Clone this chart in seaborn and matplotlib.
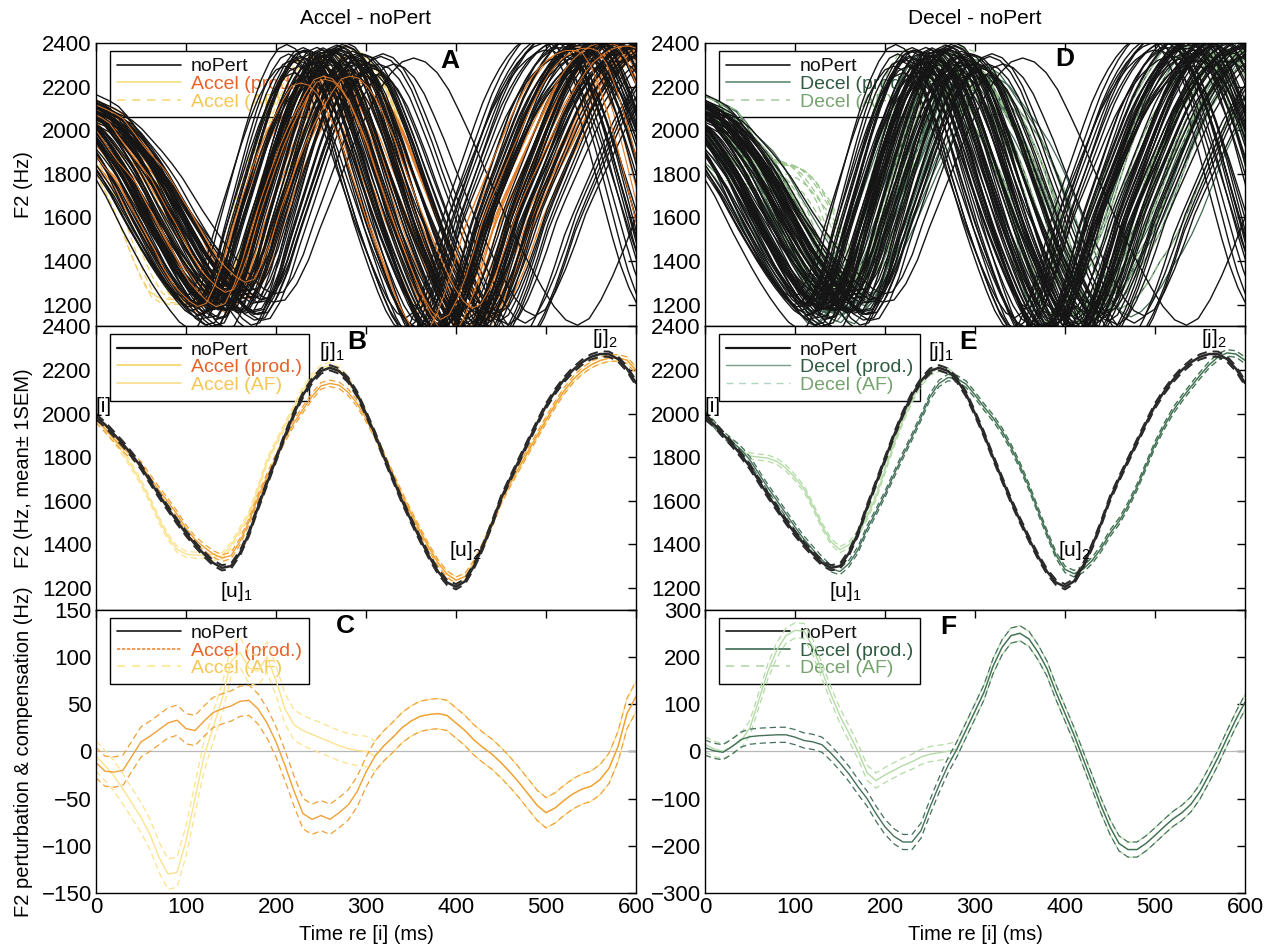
import numpy as np
import pandas as pd
import matplotlib
matplotlib.use("Agg")
import matplotlib.pyplot as plt
import seaborn as sns
from matplotlib.lines import Line2D

# ------------------------------------------------------------------ data
time_ms = list(range(0, 610, 10))            # 0..600 ms
time_ext_ms = list(range(-50, 730, 10))      # -50..720 ms (template for single trials)

# noPert mean F2 trajectory (Hz), 0..600 ms
nopert_mean = [1985, 1950, 1905, 1860, 1810, 1755, 1690, 1625, 1565, 1505,
               1450, 1400, 1355, 1315, 1292, 1300, 1360, 1450, 1570, 1680,
               1790, 1900, 2000, 2085, 2150, 2195, 2210, 2195, 2155, 2090,
               2000, 1905, 1800, 1700, 1600, 1510, 1425, 1345, 1275, 1225,
               1205, 1230, 1300, 1390, 1495, 1610, 1700, 1785, 1870, 1955,
               2035, 2100, 2155, 2200, 2235, 2260, 2273, 2272, 2250, 2205,
               2140]
nopert_head = [2060, 2050, 2035, 2020, 2005]          # -50..-10 ms
nopert_tail = [2060, 1970, 1870, 1760, 1650, 1540, 1440, 1360, 1300, 1270, 1270, 1300]

# Accel - noPert (Hz), 0..600 ms
accel_prod_diff = [-12, -21, -22, -20, -5, 10, 16, 23, 30, 33,
                   24, 22, 32, 41, 45, 48, 53, 54, 45, 30,
                   10, -15, -42, -66, -72, -68, -72, -65, -57, -43,
                   -22, -5, 6, 15, 25, 32, 37, 39, 40, 38,
                   30, 22, 12, 4, -3, -12, -22, -33, -45, -57,
                   -65, -60, -52, -45, -40, -37, -30, -18, 5, 40,
                   58]
accel_head = [-8, -9, -10, -10, -11]
accel_prod_tail = [60, 55, 45, 35, 25, 15, 5, 0, 0, 0, 0, 0]
accel_af_diff_early = [-5, -15, -26, -40, -55, -70, -88, -112, -130, -128,
                       -95, -50, -5, 25, 55, 95, 105, 88, 85, 100,
                       75, 45, 28, 22, 18, 14, 10, 6, 3, 1, 0]      # 0..300 ms

# Decel - noPert (Hz), 0..600 ms
decel_prod_diff = [8, 1, -2, 10, 25, 31, 33, 34, 35, 35,
                   30, 23, 20, 14, -4, -25, -48, -75, -100, -132,
                   -160, -180, -192, -192, -168, -118, -72, -30, 5, 45,
                   85, 125, 180, 220, 245, 250, 238, 210, 175, 125,
                   80, 35, -15, -65, -115, -160, -195, -208, -208, -195,
                   -178, -160, -143, -130, -112, -85, -50, -13, 28, 68,
                   104]
decel_head = [10, 10, 9, 9, 8]
decel_prod_tail = [130, 150, 160, 160, 150, 130, 100, 60, 20, -20, -60, -100]
decel_af_diff_early = [15, 5, 0, 10, 22, 50, 110, 170, 215, 245,
                       256, 255, 220, 170, 120, 75, 38, 0, -45, -62,
                       -50, -40, -30, -22, -12, -6, -3, 0]            # 0..270 ms

# standard errors (Hz)
sem_nopert = 12
sem_prod = 15
sem_af = 14
sem_diff = 16

# single-trial parameters (time scale, lag in ms, amplitude gain, offset in Hz)
nopert_rate = [0.90, 0.93, 0.95, 0.96, 0.97, 0.98, 0.99, 1.00, 1.00, 1.01,
               1.02, 1.03, 1.04, 1.05, 1.06, 1.08, 1.10, 1.12, 0.92, 0.94,
               0.97, 0.99, 1.01, 1.03, 1.05, 1.07, 1.09, 0.88, 0.91, 0.95,
               0.98, 1.00, 1.02, 1.04, 1.06, 1.11, 1.15, 0.96, 0.99, 1.02,
               1.04, 1.07, 0.93, 0.97, 1.00, 1.03, 1.05, 1.08, 1.13, 1.30,
               0.89, 0.94, 0.98, 1.01, 1.04, 1.06, 0.95, 0.99, 1.02, 1.10,
               0.91, 0.96, 1.00, 1.03, 1.07, 1.14, 0.94, 0.98, 1.01, 1.05,
               0.97, 1.02, 1.09, 0.92, 1.00, 1.04]
nopert_lag = [-20, 10, -35, 25, 0, -10, 35, -25, 15, 5,
              -40, 20, -5, 30, -15, 10, -30, 40, 0, -20,
              25, -10, 15, -35, 5, 30, -25, 20, -5, 35,
              -15, 10, -30, 0, 25, -20, 15, -40, 5, 30,
              -10, 20, -25, 0, 35, -15, 10, -30, 25, 15,
              -5, 20, -35, 10, 30, -20, 0, -10, 40, -25,
              15, -5, 25, -30, 5, 20, -15, 35, -20, 10,
              0, -35, 30, -10, 20, -25]
nopert_gain = [1.26, 1.18, 1.30, 1.23, 1.16, 1.33, 1.20, 1.28, 1.13, 1.24,
               1.31, 1.17, 1.27, 1.21, 1.35, 1.19, 1.29, 1.15, 1.32, 1.22,
               1.25, 1.14, 1.34, 1.20, 1.27, 1.17, 1.30, 1.23, 1.18, 1.36,
               1.21, 1.26, 1.16, 1.32, 1.24, 1.19, 1.28, 1.15, 1.33, 1.22,
               1.29, 1.18, 1.25, 1.31, 1.20, 1.27, 1.14, 1.34, 1.23, 1.22,
               1.28, 1.21, 1.17, 1.30, 1.24, 1.19, 1.32, 1.26, 1.16, 1.22,
               1.27, 1.19, 1.31, 1.24, 1.17, 1.29, 1.22, 1.33, 1.20, 1.25,
               1.18, 1.28, 1.23, 1.30, 1.21, 1.26]
nopert_offset = [20, -35, 45, -10, 60, -50, 5, 30, -25, 70,
                 -60, 15, 40, -40, 0, 55, -20, 25, -45, 10,
                 65, -30, 35, -55, 50, -5, 20, -15, 75, -40,
                 5, 45, -65, 30, -10, 60, -35, 15, -50, 40,
                 -20, 55, -5, 25, -45, 10, 70, -30, 35, 20,
                 0, 50, -25, 20, -15, 65, -40, 30, 5, -10,
                 35, -20, 10, -50, 45, -5, 25, -35, 55, -15,
                 0, 40, -60, 15, -30, 50]

accel_rate = [0.92, 0.95, 0.97, 0.99, 1.00, 1.02, 1.04, 1.06, 1.08, 1.10, 0.94, 0.98,
              1.01, 1.03, 1.05, 1.07, 0.96, 1.00, 1.02, 1.09, 0.90, 1.12, 0.99, 1.04]
accel_lag = [15, -20, 30, -5, 0, -30, 20, -15, 10, -25, 35, 5,
             -10, 25, -35, 10, -20, 30, 0, -10, 20, -25, 5, 15]
accel_gain = [1.22, 1.28, 1.18, 1.32, 1.20, 1.26, 1.16, 1.30, 1.22, 1.27, 1.31, 1.19,
              1.25, 1.17, 1.29, 1.21, 1.33, 1.24, 1.15, 1.28, 1.20, 1.26, 1.30, 1.18]
accel_offset = [10, -30, 40, -15, 25, -45, 55, -5, 30, -25, 15, 45,
                -35, 20, -10, 50, -40, 5, 35, -20, 0, 25, -50, 15]

decel_rate = [0.97, 1.01, 0.93, 1.05, 0.99, 1.08, 0.95, 1.03, 1.11, 0.98, 1.06, 0.91,
              1.00, 1.04, 0.96, 1.09, 1.02, 0.94, 1.07, 0.99, 1.13, 1.01, 0.97, 1.05]
decel_lag = [-10, 25, 5, -30, 15, -20, 35, 0, -15, 20, -35, 10,
             30, -5, -25, 15, 0, 25, -10, -30, 10, 35, -20, 5]
decel_gain = [1.20, 1.30, 1.24, 1.17, 1.33, 1.22, 1.27, 1.15, 1.29, 1.21, 1.25, 1.32,
              1.18, 1.28, 1.23, 1.16, 1.31, 1.26, 1.19, 1.34, 1.22, 1.17, 1.27, 1.24]
decel_offset = [-20, 35, 5, -45, 50, -10, 25, -35, 15, 45, -55, 0,
                30, -25, 60, -5, 20, -40, 10, 40, -15, 55, -30, 5]

labels_accel = ["noPert", "Accel (prod.)", "Accel (AF)"]
labels_decel = ["noPert", "Decel (prod.)", "Decel (AF)"]
landmarks = ["[i]", "[j]$_1$", "[u]$_1$", "[u]$_2$", "[j]$_2$"]
landmark_t = [8, 262, 156, 410, 566]
landmark_f2 = [2030, 2285, 1185, 1370, 2345]

# ------------------------------------------------------------------ style
sns.set_theme(style="white")
plt.rcParams["font.family"] = ["Liberation Sans", "DejaVu Sans"]
plt.rcParams["mathtext.fontset"] = "custom"
plt.rcParams["mathtext.rm"] = "Liberation Sans"
plt.rcParams["mathtext.default"] = "regular"
for key in ("text.color", "axes.labelcolor", "xtick.color", "ytick.color"):
    plt.rcParams[key] = "black"

TICK_FS = 16
LAB_FS = 14.5

# colours
C_NOPERT = "#151515"
C_ACC_PROD = "#F0A035"
C_ACC_AF = "#FBE38E"
C_ACC_PROD_TR = "#E07A2A"
C_ACC_AF_TR = "#F4D06A"
C_DEC_PROD = "#44705A"
C_DEC_AF = "#B4DBA6"
C_DEC_PROD_TR = "#3F6650"
C_DEC_AF_TR = "#9CC78E"

fig = plt.figure(figsize=(12.78, 9.5), dpi=100)
W = 540 / 1278
H = 850 / 3 / 950
B0 = 57 / 950
lefts = [96 / 1278, 705 / 1278]
axes = {}
for ci, names in enumerate([["A", "B", "C"], ["D", "E", "F"]]):
    for ri, nm in enumerate(names):
        axes[nm] = fig.add_axes([lefts[ci], B0 + (2 - ri) * H, W, H])

nopert_full = np.array(nopert_head + nopert_mean + nopert_tail, dtype=float)
accel_prod_full = nopert_full + np.array(accel_head + accel_prod_diff + accel_prod_tail)
accel_af_full = nopert_full + np.array(accel_head + accel_af_diff_early
                                       + accel_prod_diff[31:] + accel_prod_tail)
decel_prod_full = nopert_full + np.array(decel_head + decel_prod_diff + decel_prod_tail)
decel_af_full = nopert_full + np.array(decel_head + decel_af_diff_early
                                       + decel_prod_diff[28:] + decel_prod_tail)
i0 = len(nopert_head)          # index of t = 0
i600 = i0 + len(time_ms)       # index after t = 600


def trials_frame(template, rates, lags, gains, offsets):
    parts = []
    for k, (r, l, g, o) in enumerate(zip(rates, lags, gains, offsets)):
        parts.append(pd.DataFrame({
            "t": np.array(time_ext_ms) * r + l,
            "f2": 1750 + g * (template - 1750) + o,
            "trial": k}))
    return pd.concat(parts, ignore_index=True)


def draw_trials(ax, df, color, lw, ls="-", z=2):
    sns.lineplot(data=df, x="t", y="f2", units="trial", estimator=None, sort=False,
                 color=color, lw=lw, linestyle=ls, ax=ax, legend=False, zorder=z)


def mean_sem(ax, y, sem, color, lw, z):
    y = np.asarray(y, dtype=float)
    sns.lineplot(x=time_ms, y=y, color=color, lw=lw, ax=ax, zorder=z)
    for s in (1, -1):
        sns.lineplot(x=time_ms, y=y + s * sem, color=color,
                     lw=max(lw * 0.8, 0.9), linestyle=(0, (5, 3)), ax=ax, zorder=z)


def add_legend(ax, specs, labels, text_colors):
    handles = [Line2D([0], [0], color=c, lw=lw, ls=ls) for c, lw, ls in specs]
    leg = ax.legend(handles, labels, loc="upper left", bbox_to_anchor=(0.026, 0.972),
                    borderaxespad=0, frameon=True, fancybox=False, fontsize=14,
                    handlelength=3.3, handletextpad=0.5, labelspacing=0.0,
                    borderpad=0.35)
    fr = leg.get_frame()
    fr.set_edgecolor("black")
    fr.set_linewidth(1.0)
    fr.set_facecolor("white")
    fr.set_alpha(1)
    for txt, c in zip(leg.get_texts(), text_colors):
        txt.set_color(c)
    leg.set_zorder(1.5)


# ------------------------------------------------------------------ panel A / D
df_np = trials_frame(nopert_full, nopert_rate, nopert_lag, nopert_gain, nopert_offset)
df_ap = trials_frame(accel_prod_full, accel_rate, accel_lag, accel_gain, accel_offset)
df_ap_top = trials_frame(accel_prod_full, accel_rate[:4], accel_lag[:4], accel_gain[:4], accel_offset[:4])
df_aa = trials_frame(accel_af_full, accel_rate[:16], accel_lag[:16], accel_gain[:16], accel_offset[:16])
df_dp = trials_frame(decel_prod_full, decel_rate, decel_lag, decel_gain, decel_offset)
df_da = trials_frame(decel_af_full, decel_rate[:18], decel_lag[:18], decel_gain[:18], decel_offset[:18])

ax = axes["A"]
draw_trials(ax, df_aa, C_ACC_AF_TR, 0.9, ls=(0, (5, 3)), z=2)
draw_trials(ax, df_ap, C_ACC_PROD_TR, 0.8, z=2.1)
draw_trials(ax, df_np, C_NOPERT, 1.0, z=2.2)
draw_trials(ax, df_ap_top, C_ACC_PROD_TR, 0.7, z=2.3)

ax = axes["D"]
draw_trials(ax, df_dp, C_DEC_PROD_TR, 0.9, z=2)
draw_trials(ax, df_da, C_DEC_AF_TR, 0.9, ls=(0, (5, 3)), z=2.1)
draw_trials(ax, df_np, C_NOPERT, 1.0, z=2.2)

# ------------------------------------------------------------------ panel B / E
ax = axes["B"]
mean_sem(ax, accel_af_full[i0:i600], sem_af, C_ACC_AF, 1.0, 2)
mean_sem(ax, accel_prod_full[i0:i600], sem_prod, C_ACC_PROD, 1.0, 3)
mean_sem(ax, nopert_mean, sem_nopert, "#2a2a2a", 1.8, 4)

ax = axes["E"]
mean_sem(ax, decel_af_full[i0:i600], sem_af, C_DEC_AF, 1.0, 2)
mean_sem(ax, decel_prod_full[i0:i600], sem_prod, C_DEC_PROD, 1.0, 3)
mean_sem(ax, nopert_mean, sem_nopert, "#2a2a2a", 1.8, 4)

for nm in ("B", "E"):
    for lab, tt, ff in zip(landmarks, landmark_t, landmark_f2):
        axes[nm].text(tt, ff, lab, fontsize=15, ha="center", va="center", zorder=6)

# ------------------------------------------------------------------ panel C / F
ax = axes["C"]
ax.axhline(0, color="#b8b8b8", lw=0.9, zorder=1.8)
mean_sem(ax, accel_af_full[i0:i600] - nopert_full[i0:i600], sem_diff, C_ACC_AF, 1.0, 2)
mean_sem(ax, accel_prod_diff, sem_diff, C_ACC_PROD, 1.0, 3)

ax = axes["F"]
ax.axhline(0, color="#b8b8b8", lw=0.9, zorder=1.8)
mean_sem(ax, decel_af_full[i0:i600] - nopert_full[i0:i600], sem_diff, C_DEC_AF, 1.0, 2)
mean_sem(ax, decel_prod_diff, sem_diff, C_DEC_PROD, 1.0, 3)

# ------------------------------------------------------------------ legends
txt_acc = ["#111111", "#E8622A", "#F6C656"]
txt_dec = ["#111111", "#2F5B40", "#76A46E"]
add_legend(axes["A"], [(C_NOPERT, 1.2, "-"), ("#F3E07A", 1.2, "-"), ("#F8D97A", 1.2, (0, (5, 4)))],
           labels_accel, txt_acc)
add_legend(axes["B"], [(C_NOPERT, 1.6, "-"), ("#F3D36A", 1.2, "-"), ("#F8DD8A", 1.2, "-")],
           labels_accel, txt_acc)
add_legend(axes["C"], [(C_NOPERT, 1.2, "-"), ("#EE8A3A", 1.2, (0, (2, 1))), ("#FFE98A", 1.2, (0, (5, 4)))],
           labels_accel, txt_acc)
add_legend(axes["D"], [(C_NOPERT, 1.2, "-"), ("#5E8A74", 1.2, "-"), ("#AFCFA5", 1.2, (0, (5, 4)))],
           labels_decel, txt_dec)
add_legend(axes["E"], [(C_NOPERT, 1.6, "-"), ("#7A9F8A", 1.0, "-"), ("#AFD6C0", 1.0, (0, (5, 4)))],
           labels_decel, txt_dec)
add_legend(axes["F"], [(C_NOPERT, 1.2, "-"), ("#3F6B55", 1.2, "-"), ("#B5D9A8", 1.2, (0, (5, 4)))],
           labels_decel, txt_dec)

# ------------------------------------------------------------------ axes cosmetics
ylims = {"A": (1100, 2400), "B": (1100, 2400), "D": (1100, 2400), "E": (1100, 2400),
         "C": (-150, 150), "F": (-300, 300)}
yticks = {"A": range(1200, 2401, 200), "B": range(1200, 2401, 200),
          "D": range(1200, 2401, 200), "E": range(1200, 2401, 200),
          "C": range(-150, 151, 50), "F": range(-300, 301, 100)}
letters = {"A": (0.655, 0.935), "B": (0.482, 0.943), "C": (0.462, 0.944),
           "D": (0.667, 0.945), "E": (0.487, 0.943), "F": (0.45, 0.94)}

for nm, ax in axes.items():
    ax.set_xlim(0, 600)
    ax.set_ylim(*ylims[nm])
    ax.set_xticks(range(0, 601, 100))
    ax.set_yticks(list(yticks[nm]))
    ax.tick_params(direction="in", top=True, right=True, length=6, width=1,
                   labelsize=TICK_FS, colors="black", pad=3)
    ax.set_facecolor("white")
    for sp in ax.spines.values():
        sp.set_color("black")
        sp.set_linewidth(1.0)
        sp.set_zorder(10)
    ax.set_xlabel("")
    ax.set_ylabel("")
    ax.text(*letters[nm], nm, transform=ax.transAxes, fontsize=19, fontweight="bold",
            ha="center", va="center", zorder=7)
    if nm in ("A", "B", "D", "E"):
        ax.tick_params(labelbottom=False)
    else:
        ax.set_xlabel("Time re [i] (ms)", fontsize=LAB_FS, labelpad=5)

axes["A"].set_ylabel("F2 (Hz)", fontsize=LAB_FS)
axes["B"].set_ylabel("F2 (Hz, mean\u00b1 1SEM)", fontsize=LAB_FS)
axes["C"].set_ylabel("F2 perturbation & compensation (Hz)", fontsize=LAB_FS)
for nm in ("A", "B", "C"):
    axes[nm].yaxis.set_label_coords(-0.117, 0.5)

axes["A"].set_title("Accel - noPert", fontsize=15, pad=14)
axes["D"].set_title("Decel - noPert", fontsize=15, pad=14)

fig.savefig("out.png", dpi=100, facecolor="white")
